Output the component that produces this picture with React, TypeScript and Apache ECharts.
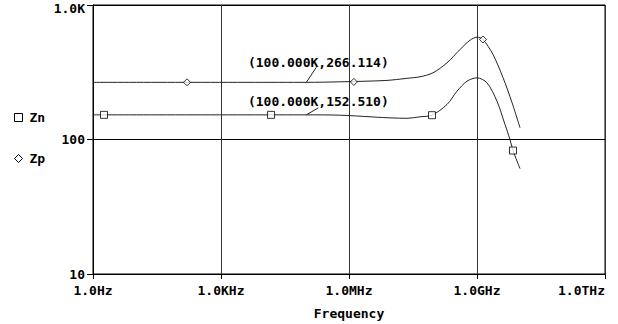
import { useEffect, useRef } from 'react';
import * as echarts from 'echarts';

// Frequency decade ticks (exponent of Hz) and their labels
const freqTickExp = [0, 3, 6, 9, 12];
const freqTickLabels = ['1.0Hz', '1.0KHz', '1.0MHz', '1.0GHz', '1.0THz'];

// Zn trace (Hz, ohm)
const znFreq = [1, 1e5, 6.2e5, 2.3e7, 4.61e7, 8.81e7, 1.98e8, 3.4e8, 5.83e8, 1e9, 1.71e9, 2.94e9, 4.53e9, 5.93e9, 6.98e9, 1.02e10];
const znVal = [152.51, 152.51, 151.6, 143.8, 147.5, 151.6, 182.1, 228.6, 271.4, 287.5, 264.0, 192.7, 129.3, 100, 82.8, 60.8];
// Zp trace (Hz, ohm)
const zpFreq = [1, 1e5, 6.2e5, 7.3e6, 2.3e7, 4.61e7, 9.31e7, 1.98e8, 4.0e8, 6.86e8, 1e9, 1.38e9, 2.37e9, 4.06e9, 6.61e9, 1.02e10];
const zpVal = [266.114, 266.114, 268.5, 274.7, 285, 292.5, 313.3, 371.7, 466.9, 547.3, 576.3, 554, 428.5, 289, 188.4, 122.2];

// trace markers
const znMarkFreq = [1.81, 1.49e4, 8.81e7, 6.98e9];
const znMarkVal = [152.5, 152.5, 151.6, 82.8];
const zpMarkFreq = [160, 1.3e6, 1.38e9];
const zpMarkVal = [266.1, 268, 554];

// cursor annotations
const cursorFreq = [1e5, 1e5];
const cursorVal = [266.114, 152.51];
const cursorText = ['(100.000K,266.114)', '(100.000K,152.510)'];

const FONT = 'DejaVu Sans Mono';

const toPts = (f: number[], v: number[]) => f.map((x, i) => [Math.log10(x), v[i]]);

export default function App() {
  const ref = useRef<HTMLDivElement>(null);
  useEffect(() => {
    if (!ref.current) return;
    const chart = echarts.init(ref.current, undefined, { renderer: 'svg' });
    const text = { fontFamily: FONT, fontWeight: 'bold' as const, fontSize: 13, color: '#000' };
    chart.setOption({
      animation: false,
      backgroundColor: '#fff',
      grid: {
        left: 93,
        right: 13,
        top: 5,
        bottom: 50,
        show: true,
        borderColor: '#000',
        borderWidth: 1,
        containLabel: false,
        outerBoundsMode: 'none',
      },
      legend: {
        orient: 'vertical',
        left: 9,
        top: 106,
        itemGap: 28,
        itemWidth: 8,
        itemHeight: 8,
        textStyle: { ...text, padding: [0, 0, 0, 2] },
        data: [
          { name: 'Zn', icon: 'rect', itemStyle: { color: '#fff', borderColor: '#000', borderWidth: 1 } },
          { name: 'Zp', icon: 'diamond', itemStyle: { color: '#fff', borderColor: '#000', borderWidth: 1 } },
        ],
      },
      xAxis: {
        type: 'value',
        min: 0,
        max: 12,
        interval: 3,
        name: 'Frequency',
        nameLocation: 'middle',
        nameGap: 33,
        nameTextStyle: text,
        axisLine: { lineStyle: { color: '#000' } },
        axisTick: { show: true, length: 5, lineStyle: { color: '#000' } },
        axisLabel: {
          ...text,
          margin: 10,
          alignMaxLabel: 'right',
          formatter: (v: number) => {
            const i = freqTickExp.indexOf(v);
            return i >= 0 ? freqTickLabels[i] : '';
          },
        },
        splitLine: { show: true, lineStyle: { color: '#333', width: 1 } },
      },
      yAxis: {
        type: 'log',
        logBase: 10,
        min: 10,
        max: 1000,
        axisLine: { show: true, lineStyle: { color: '#000' } },
        axisTick: { show: true, length: 6, lineStyle: { color: '#000' } },
        axisLabel: {
          ...text,
          margin: 8,
          formatter: (v: number) => (v >= 1000 ? '{top|1.0K}' : String(Math.round(v))),
          rich: {
            top: { ...text, padding: [6, 0, 0, 0] },
          },
        },
        splitLine: { show: true, lineStyle: { color: '#000', width: 1 } },
      },
      series: [
        {
          name: 'Zn',
          type: 'line',
          data: toPts(znFreq, znVal),
          smooth: 0.3,
          showSymbol: false,
          lineStyle: { color: '#222', width: 1 },
          itemStyle: { color: '#000' },
          z: 3,
        },
        {
          name: 'Zp',
          type: 'line',
          data: toPts(zpFreq, zpVal),
          smooth: 0.3,
          showSymbol: false,
          lineStyle: { color: '#222', width: 1 },
          itemStyle: { color: '#000' },
          z: 3,
        },
        {
          name: 'Zn',
          type: 'scatter',
          data: toPts(znMarkFreq, znMarkVal),
          symbol: 'rect',
          symbolSize: 7,
          itemStyle: { color: '#fff', borderColor: '#000', borderWidth: 1 },
          z: 4,
        },
        {
          name: 'Zp',
          type: 'scatter',
          data: toPts(zpMarkFreq, zpMarkVal),
          symbol: 'diamond',
          symbolSize: 7,
          itemStyle: { color: '#fff', borderColor: '#000', borderWidth: 1 },
          z: 4,
        },
      ],
    });

    const graphics: any[] = [];
    cursorFreq.forEach((f, i) => {
      const p = chart.convertToPixel({ gridIndex: 0 }, [Math.log10(f), cursorVal[i]]) as number[];
      const end = i === 0 ? [p[0] + 10, p[1] - 15] : [p[0] + 12, p[1] - 7];
      graphics.push({
        type: 'line',
        shape: { x1: p[0], y1: p[1], x2: end[0], y2: end[1] },
        style: { stroke: '#222', lineWidth: 1 },
        z: 10,
      });
      graphics.push({
        type: 'text',
        x: p[0] + 12,
        y: end[1] + (i === 0 ? 2 : 0),
        style: {
          text: cursorText[i],
          font: `bold 13px "${FONT}"`,
          fill: '#000',
          textAlign: 'center',
          textVerticalAlign: 'bottom',
        },
        z: 10,
      });
    });
    chart.setOption({ graphic: graphics });

    return () => chart.dispose();
  }, []);
  return (
    <div
      ref={ref}
      style={{ position: 'fixed', left: 0, top: 0, width: 618, height: 324, background: '#fff' }}
    />
  );
}
